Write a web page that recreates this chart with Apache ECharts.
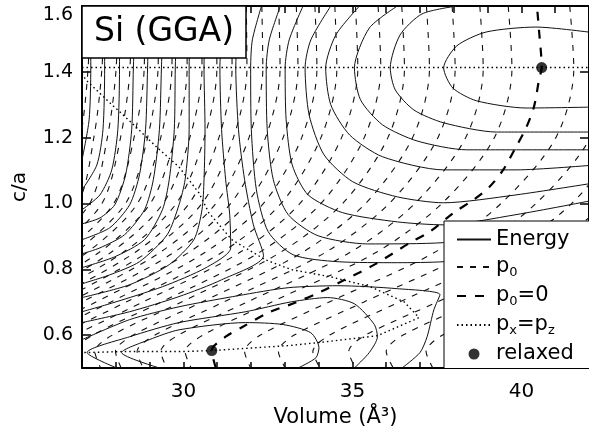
<!DOCTYPE html>
<html>
<head>
<meta charset="utf-8">
<script src="https://cdn.jsdelivr.net/npm/echarts@6/dist/echarts.min.js"></script>
<style>
  html, body { margin: 0; padding: 0; background: #fff; }
  #chart { width: 589px; height: 434px; }
</style>
</head>
<body>
<div id="chart"></div>
<script>
// axis ticks / labels
const xTicks = [28, 29, 30, 31, 32, 33, 34, 35, 36, 37, 38, 39, 40, 41]
const xLabels = [30, 35, 40]
const yTicks = [0.6, 0.8, 1.0, 1.2, 1.4]
const yLabels = [0.6, 0.8, 1.0, 1.2, 1.4, 1.6]

// energy contours around the upper minimum, [volume, c/a]
const energyTop = [
  [[42.2, 1.518], [40.43, 1.536], [38.96, 1.521], [38.09, 1.479], [37.7, 1.412], [37.97, 1.351], [38.67, 1.312], [40.14, 1.29], [42.2, 1.293]],
  [[38.09, 1.6], [37.06, 1.576], [36.41, 1.512], [36.12, 1.412], [36.27, 1.345], [36.82, 1.284], [37.7, 1.245], [39.26, 1.217], [42.2, 1.217]],
  [[36.33, 1.6], [35.5, 1.533], [35.06, 1.412], [35.24, 1.315], [35.89, 1.239], [36.91, 1.19], [38.38, 1.163], [42.2, 1.163]],
  [[35.21, 1.6], [34.51, 1.512], [34.21, 1.412], [34.36, 1.3], [34.92, 1.208], [35.89, 1.142], [37.7, 1.102], [39.84, 1.102], [42.2, 1.117]],
  [[34.36, 1.6], [33.77, 1.497], [33.6, 1.412], [33.72, 1.269], [34.16, 1.148], [35.01, 1.066], [36.33, 1.02], [37.7, 1.002], [39.84, 1.026], [42.2, 1.063]],
  [[33.54, 1.6], [33.13, 1.497], [33.01, 1.412], [33.04, 1.254], [33.22, 1.117], [33.69, 1.026], [34.71, 0.972], [36.33, 0.944], [37.7, 0.935], [39.84, 0.966], [42.2, 1.011]],
  [[32.87, 1.6], [32.54, 1.497], [32.45, 1.412], [32.48, 1.224], [32.66, 1.072], [33.1, 0.966], [33.98, 0.902], [35.45, 0.877], [37.7, 0.881], [42.2, 0.926]],
  [[32.31, 1.6], [32.04, 1.497], [31.99, 1.412], [32.01, 1.224], [32.16, 1.041], [32.51, 0.914], [33.25, 0.844], [34.57, 0.823], [36.33, 0.82], [37.7, 0.823], [42.2, 0.859]]
]

// energy contours running from the top edge to the left edge
const energyLeft = [
  [[31.84, 1.6], [31.6, 1.497], [31.55, 1.412], [31.63, 1.224], [31.81, 1.072], [32.07, 0.935], [32.37, 0.841], [31.13, 0.768], [29.87, 0.717], [28.41, 0.671], [27.0, 0.638]],
  [[31.34, 1.6], [31.13, 1.497], [31.08, 1.412], [31.13, 1.224], [31.25, 1.072], [31.37, 0.966], [31.4, 0.865], [30.67, 0.805], [29.38, 0.747], [27.91, 0.698], [27.0, 0.671]],
  [[30.81, 1.6], [30.64, 1.497], [30.61, 1.412], [30.64, 1.224], [30.61, 1.072], [30.55, 0.981], [30.31, 0.89], [29.58, 0.814], [28.41, 0.753], [27.0, 0.714]],
  [[30.34, 1.6], [30.2, 1.497], [30.17, 1.412], [30.17, 1.224], [30.05, 1.072], [29.87, 0.996], [29.52, 0.905], [28.7, 0.823], [27.82, 0.783], [27.0, 0.756]],
  [[29.9, 1.6], [29.79, 1.497], [29.76, 1.412], [29.73, 1.224], [29.58, 1.072], [29.38, 0.981], [28.85, 0.89], [27.97, 0.838], [27.0, 0.805]],
  [[29.46, 1.6], [29.38, 1.497], [29.35, 1.412], [29.29, 1.224], [29.11, 1.072], [28.85, 0.981], [28.26, 0.905], [27.53, 0.865], [27.0, 0.847]],
  [[29.02, 1.6], [28.96, 1.497], [28.94, 1.412], [28.88, 1.224], [28.7, 1.087], [28.41, 0.996], [27.82, 0.926], [27.0, 0.89]],
  [[28.58, 1.6], [28.55, 1.497], [28.52, 1.412], [28.47, 1.224], [28.29, 1.087], [27.97, 0.996], [27.53, 0.956], [27.0, 0.938]],
  [[28.14, 1.6], [28.11, 1.497], [28.11, 1.412], [28.06, 1.224], [27.88, 1.102], [27.53, 1.026], [27.0, 0.981]],
  [[27.7, 1.6], [27.67, 1.497], [27.67, 1.412], [27.62, 1.224], [27.44, 1.117], [27.0, 1.041]],
  [[27.29, 1.6], [27.26, 1.497], [27.26, 1.412], [27.21, 1.254], [27.0, 1.132]]
]

// energy contours around the lower minimum
const energyLow = [
  [[27.0, 0.586], [28.41, 0.647], [29.87, 0.686], [31.63, 0.72], [33.1, 0.744], [34.57, 0.75], [36.33, 0.741], [37.59, 0.723], [37.41, 0.677], [37.21, 0.595], [37.0, 0.547], [36.47, 0.5]],
  [[28.03, 0.5], [27.15, 0.547], [28.41, 0.595], [29.87, 0.638], [31.84, 0.671], [33.19, 0.701], [34.27, 0.714], [35.06, 0.695], [35.65, 0.632], [35.74, 0.595], [35.5, 0.547], [35.06, 0.5]],
  [[29.29, 0.5], [28.17, 0.547], [28.99, 0.586], [29.87, 0.616], [31.84, 0.638], [32.95, 0.632], [33.77, 0.607], [34.01, 0.562], [33.92, 0.531], [33.39, 0.5]]
]

// p0 contours: volume at each c/a level
const pLevels = [1.6, 1.41, 1.2, 1.0, 0.85, 0.7, 0.6, 0.55, 0.5]
const pressureHigh = [
  [39.61, 39.72, 39.2, 37.65, 35.68, 32.6, 30.58, 30.05, 30.23],
  [38.77, 38.87, 38.35, 36.85, 34.91, 31.88, 29.85, 29.33, 29.51],
  [37.95, 38.04, 37.53, 36.09, 34.18, 31.18, 29.16, 28.63, 28.81],
  [37.19, 37.28, 36.78, 35.39, 33.5, 30.54, 28.52, 27.99, 28.16],
  [36.46, 36.54, 36.05, 34.71, 32.85, 29.93, 27.9, 27.38, 27.55],
  [35.76, 35.84, 35.35, 34.07, 32.23, 29.34, 27.32, 26.79, 26.97],
  [35.09, 35.16, 34.68, 33.45, 31.65, 28.79, 26.77],
  [34.48, 34.54, 34.07, 32.89, 31.12, 28.3, 26.28],
  [33.89, 33.95, 33.5, 32.37, 30.62, 27.84, 25.81],
  [33.34, 33.39, 32.95, 31.87, 30.14, 27.4, 25.38],
  [32.82, 32.86, 32.43, 31.4, 29.7, 26.99, 25.0],
  [32.32, 32.35, 31.94, 30.96, 29.29, 26.62],
  [31.86, 31.88, 31.48, 30.55, 28.91, 26.27],
  [31.42, 31.44, 31.05, 30.17, 28.55, 25.95],
  [30.98, 30.99, 30.62, 29.79, 28.2, 25.63],
  [30.55, 30.55, 30.19, 29.4, 27.84, 25.31],
  [30.11, 30.11, 29.76, 29.02, 27.49, 25.0],
  [29.67, 29.66, 29.33, 28.64, 27.13, 24.68],
  [29.27, 29.25, 28.94, 28.29, 26.81],
  [28.86, 28.84, 28.54, 27.94, 26.48],
  [28.45, 28.42, 28.14, 27.59, 26.16],
  [28.05, 28.01, 27.75, 27.23, 25.83],
  [27.64, 27.59, 27.35, 26.88, 25.5],
  [27.23, 27.18, 26.96, 26.53]
]
const pressureLow = [
  [41.43, 41.55, 41.02, 39.4, 37.41, 34.3, 32.28, 31.81, 31.99],
  [42.43, 42.54, 42.04, 40.43, 38.44, 35.33, 33.28, 32.81, 33.01],
  [null, 44.6, 43.07, 41.49, 39.49, 36.38, 34.33, 33.83, 34.04],
  [null, null, 45.1, 42.54, 40.58, 37.5, 35.39, 34.89, 35.09],
  [null, null, null, 43.66, 41.66, 38.61, 36.5, 36.0, 36.21],
  [null, null, null, 44.8, 42.84, 39.79, 37.67, 37.18, 37.38],
  [null, null, null, null, 44.07, 41.02, 38.91, 38.41, 38.61]
]

// p0 = 0 line
const zeroPressure = [[30.96, 0.5], [30.84, 0.553], [31.25, 0.595], [31.72, 0.623], [32.51, 0.668], [33.3, 0.698], [34.07, 0.732], [34.77, 0.768], [35.65, 0.814], [36.71, 0.881], [37.3, 0.915], [38.0, 0.972], [38.58, 1.011], [39.05, 1.05], [39.46, 1.102], [39.84, 1.172], [40.14, 1.23], [40.37, 1.293], [40.52, 1.375], [40.6, 1.413], [40.52, 1.527], [40.46, 1.6]]

// px = pz lines
const equalStress = [
  [[27.0, 1.413], [42.2, 1.413]],
  [[27.0, 1.395], [27.12, 1.375], [27.73, 1.315], [28.47, 1.245], [29.2, 1.172], [29.87, 1.111], [30.46, 1.032], [30.75, 0.972], [31.43, 0.89], [32.42, 0.829], [33.19, 0.799], [34.36, 0.777], [35.53, 0.747], [36.53, 0.701], [36.97, 0.653], [35.74, 0.598], [33.98, 0.577], [33.1, 0.568], [30.84, 0.553], [29.99, 0.55], [28.2, 0.55], [27.15, 0.547], [27.0, 0.547]]
]

const relaxed = [[30.84, 0.553], [40.6, 1.413]]

const FONT = 'DejaVu Sans'

function contour (name, data, lineStyle, smooth, z) {
  return {
    type: 'line',
    name: name,
    data: data,
    symbol: 'none',
    smooth: smooth,
    clip: true,
    silent: true,
    z: z,
    itemStyle: { color: '#000' },
    lineStyle: lineStyle
  }
}

function levelsToPoints (row) {
  const pts = []
  row.forEach((v, i) => {
    if (v !== null) pts.push([v, pLevels[i]])
  })
  return pts
}

const energyStyle = { color: '#111', width: 1 }
const pStyle = { color: '#111', width: 1.1, type: [6, 7] }
const zeroStyle = { color: '#000', width: 2.2, type: [9, 9] }
const dotStyle = { color: '#000', width: 1.4, type: [1.5, 3] }

const series = []
pressureHigh.concat(pressureLow).forEach(row => {
  series.push(contour('p0', levelsToPoints(row), pStyle, 0.3, 2))
})
energyTop.concat(energyLeft, energyLow).forEach(line => {
  series.push(contour('Energy', line, energyStyle, 0.25, 3))
})
series.push(contour('p0=0', zeroPressure, zeroStyle, 0.3, 4))
equalStress.forEach(line => {
  series.push(contour('px=pz', line, dotStyle, false, 4))
})
series.push({
  type: 'scatter',
  name: 'relaxed',
  data: relaxed,
  symbol: 'circle',
  symbolSize: 11,
  itemStyle: { color: '#000' },
  silent: true,
  z: 5
})

const legendText = {
  'Energy': '{m|Energy}',
  'p0': '{m|p}{s|0}',
  'p0=0': '{m|p}{s|0}{m|=0}',
  'px=pz': '{m|p}{s|x}{m|=p}{s|z}',
  'relaxed': '{m|relaxed}'
}

const chart = echarts.init(document.getElementById('chart'))
const option = {
  animation: false,
  backgroundColor: '#fff',
  title: {
    text: 'Si (GGA)',
    left: 82,
    top: 6,
    backgroundColor: '#fff',
    borderColor: '#000',
    borderWidth: 1.5,
    padding: [7, 12, 7, 12],
    textStyle: { fontSize: 33, fontWeight: 'normal', color: '#000', fontFamily: FONT, lineHeight: 38 },
    z: 10
  },
  legend: {
    data: [
      { name: 'Energy', itemStyle: { opacity: 0 } },
      { name: 'p0', itemStyle: { opacity: 0 } },
      { name: 'p0=0', itemStyle: { opacity: 0 } },
      { name: 'px=pz', itemStyle: { opacity: 0 } },
      { name: 'relaxed', itemStyle: { color: '#000' } }
    ],
    orient: 'vertical',
    left: 444,
    top: 221,
    padding: [8, 20, 4, 12],
    itemWidth: 34,
    itemHeight: 11,
    itemGap: 6.5,
    backgroundColor: '#fff',
    borderColor: '#000',
    borderWidth: 1,
    selectedMode: false,
    formatter: name => legendText[name],
    textStyle: {
      color: '#000',
      fontFamily: FONT,
      fontSize: 21,
      rich: {
        m: { fontSize: 21, fontFamily: FONT, color: '#000', lineHeight: 24 },
        s: { fontSize: 13, fontFamily: FONT, color: '#000', lineHeight: 13, verticalAlign: 'bottom' }
      }
    },
    z: 10
  },
  grid: { left: 82, right: -4, top: 6, bottom: 66 },
  xAxis: [
    {
      type: 'value',
      min: 27,
      max: 42,
      position: 'bottom',
      axisLine: { show: true, lineStyle: { color: '#000', width: 2 } },
      axisTick: { inside: true, length: 6, customValues: xTicks, lineStyle: { color: '#000', width: 1.5 } },
      axisLabel: { customValues: xLabels, margin: 14, fontSize: 20, color: '#000', fontFamily: FONT },
      splitLine: { show: false },
      name: 'Volume (Å³)',
      nameLocation: 'middle',
      nameGap: 37,
      nameTextStyle: { fontSize: 21, color: '#000', fontFamily: FONT }
    },
    {
      type: 'value',
      min: 27,
      max: 42,
      position: 'top',
      axisLine: { show: true, lineStyle: { color: '#000', width: 2 } },
      axisTick: { inside: true, length: 7, customValues: xTicks, lineStyle: { color: '#000', width: 1.5 } },
      axisLabel: { show: false },
      splitLine: { show: false }
    }
  ],
  yAxis: [
    {
      type: 'value',
      min: 0.5,
      max: 1.6,
      position: 'left',
      axisLine: { show: true, lineStyle: { color: '#000', width: 2 } },
      axisTick: { inside: true, length: 9, customValues: yTicks, lineStyle: { color: '#000', width: 1.5 } },
      axisLabel: {
        customValues: yLabels,
        margin: 9,
        fontSize: 19,
        color: '#000',
        fontFamily: FONT,
        formatter: v => (Math.abs(v - 1.6) < 1e-9 ? '{t|1.6}' : v.toFixed(1)),
        rich: { t: { fontSize: 19, color: '#000', fontFamily: FONT, padding: [18, 0, 0, 0] } }
      },
      splitLine: { show: false },
      name: 'c/a',
      nameLocation: 'middle',
      nameGap: 52,
      nameTextStyle: { fontSize: 20, color: '#000', fontFamily: FONT }
    },
    {
      type: 'value',
      min: 0.5,
      max: 1.6,
      position: 'right',
      axisLine: { show: true, lineStyle: { color: '#000', width: 2 } },
      axisTick: { inside: true, length: 9, customValues: yTicks, lineStyle: { color: '#000', width: 1.5 } },
      axisLabel: { show: false },
      splitLine: { show: false }
    }
  ],
  series: series
}
chart.setOption(option)
window.addEventListener('resize', function () {
  chart.resize()
})
</script>
</body>
</html>
